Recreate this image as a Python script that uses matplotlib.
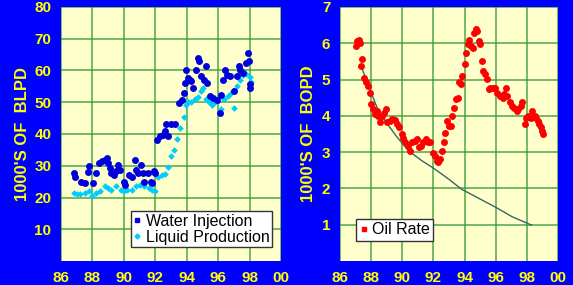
import matplotlib
matplotlib.use("Agg")
import matplotlib.pyplot as plt
from matplotlib.lines import Line2D

plt.rcParams['font.family'] = ['Liberation Sans', 'DejaVu Sans']

# ---- Left panel data ----
wi_years = [86.8, 86.9, 87.3, 87.5, 87.7, 87.8, 88.05, 88.2, 88.4, 88.6, 88.8, 88.9,
            89.0, 89.1, 89.2, 89.4, 89.5, 89.6, 89.75, 90.0, 90.1, 90.3, 90.5, 90.7,
            90.8, 90.9, 91.1, 91.2, 91.3, 91.55, 91.7, 91.8, 91.9, 92.0, 92.1, 92.3,
            92.5, 92.6, 92.7, 92.8, 93.0, 93.25, 93.5, 93.7, 93.8, 93.9, 93.95, 94.1,
            94.2, 94.3, 94.4, 94.6, 94.7, 94.8, 94.9, 95.1, 95.2, 95.3, 95.45, 95.7,
            95.9, 96.1, 96.2, 96.3, 96.45, 96.55, 96.75, 97.0, 97.2, 97.3, 97.4, 97.6,
            97.8, 97.9, 97.95, 98.0, 98.05]
wi_vals = [27.7, 26.6, 25.0, 24.7, 28.0, 29.8, 24.5, 27.7, 30.8, 31.4, 31.9, 32.4,
           30.8, 29.3, 27.7, 27.2, 28.2, 30.3, 28.7, 25.0, 24.0, 27.2, 26.6, 31.9,
           28.7, 27.7, 30.3, 27.7, 25.0, 27.7, 25.0, 24.5, 28.2, 27.7, 38.2, 39.3,
           39.8, 40.8, 43.0, 39.3, 43.0, 43.0, 49.8, 50.8, 53.0, 56.0, 60.3, 57.7,
           57.0, 56.6, 54.5, 60.3, 64.0, 63.0, 58.2, 57.0, 61.4, 56.0, 51.9, 51.4,
           50.8, 46.6, 52.4, 57.0, 60.3, 58.7, 58.2, 53.5, 58.2, 61.4, 60.3, 59.3,
           62.4, 65.6, 63.0, 54.5, 55.6]

lp_years = [86.8, 87.0, 87.2, 87.5, 87.8, 88.0, 88.2, 88.5, 88.8, 89.0, 89.2, 89.5,
            89.8, 90.0, 90.2, 90.5, 90.8, 91.0, 91.3, 91.6, 91.8, 92.0, 92.2, 92.4,
            92.6, 92.8, 93.0, 93.2, 93.4, 93.6, 93.8, 93.95, 94.1, 94.3, 94.5, 94.7,
            94.9, 95.05, 95.2, 95.4, 95.6, 95.8, 96.0, 96.2, 96.4, 96.6, 96.8, 97.0,
            97.2, 97.4, 97.6, 97.8, 98.0, 98.1]
lp_vals = [21.5, 21.0, 21.2, 21.5, 22.0, 20.5, 21.5, 22.0, 23.5, 23.0, 22.5, 23.5,
           22.5, 22.0, 22.5, 22.5, 23.5, 24.0, 23.5, 23.0, 22.5, 22.0, 26.5, 27.0,
           27.5, 29.5, 33.0, 35.0, 38.5, 42.0, 45.5, 49.0, 50.0, 50.0, 51.0, 51.5,
           53.5, 54.5, 51.0, 50.0, 49.0, 50.0, 50.5, 48.0, 51.0, 52.0, 53.0, 48.2,
           55.0, 57.0, 58.5, 59.0, 58.0, 56.5]

# ---- Right panel data ----
oil_years = [87.0, 87.1, 87.2, 87.3, 87.35, 87.4, 87.55, 87.65, 87.8, 87.9, 88.0, 88.15,
             88.25, 88.35, 88.45, 88.55, 88.7, 88.85, 88.95, 89.05, 89.2, 89.35, 89.55,
             89.65, 89.8, 89.95, 90.05, 90.15, 90.35, 90.5, 90.6, 90.8, 90.95, 91.1,
             91.2, 91.35, 91.5, 91.65, 91.8, 91.95, 92.1, 92.2, 92.3, 92.4, 92.55,
             92.65, 92.75, 92.9, 93.0, 93.1, 93.2, 93.3, 93.45, 93.55, 93.65, 93.8,
             93.85, 94.0, 94.1, 94.25, 94.3, 94.4, 94.55, 94.6, 94.75, 94.8, 94.9,
             95.0, 95.1, 95.2, 95.3, 95.45, 95.55, 95.65, 95.8, 95.95, 96.1, 96.3,
             96.45, 96.55, 96.65, 96.75, 96.9, 97.05, 97.2, 97.35, 97.45, 97.6, 97.7,
             97.85, 97.95, 98.1, 98.25, 98.35, 98.5, 98.6, 98.7, 98.8, 98.9, 99.0, 99.05]
oil_vals = [5.93, 6.06, 6.10, 6.00, 5.38, 5.56, 5.05, 4.92, 4.83, 4.64, 4.32, 4.18,
            4.05, 4.14, 4.00, 3.82, 4.00, 4.09, 4.18, 3.82, 3.86, 3.91, 3.89,
            3.77, 3.68, 3.50, 3.40, 3.27, 3.17, 3.04, 3.27, 3.31, 3.36, 3.13,
            3.17, 3.27, 3.36, 3.27, 3.27, 2.99, 2.90, 2.76, 2.72, 2.81, 3.04,
            3.27, 3.54, 3.86, 3.72, 3.72, 4.00, 4.23, 4.46, 4.48, 4.92, 4.87,
            5.10, 5.42, 5.74, 5.97, 6.10, 5.93, 5.88, 6.29, 6.39, 6.34, 6.06,
            5.97, 5.51, 5.24, 5.15, 5.01, 4.73, 4.78, 4.78, 4.78, 4.64, 4.55,
            4.50, 4.60, 4.78, 4.55, 4.37, 4.28, 4.23, 4.14, 4.18, 4.28, 4.37,
            3.77, 3.95, 4.00, 3.95, 4.14, 4.00, 3.95, 3.86, 3.77, 3.68, 3.59, 3.50]

dec_years = [87.35, 87.9, 88.45, 88.9, 89.6, 90.4, 91.2, 92.1, 93.0, 93.8, 94.9, 96.0, 97.05, 98.3]
dec_vals = [5.38, 4.75, 4.15, 3.86, 3.45, 3.04, 2.78, 2.53, 2.25, 1.98, 1.73, 1.48, 1.22, 0.99]

x_ticks = [86, 88, 90, 92, 94, 96, 98, 100]
x_labels = ['86', '88', '90', '92', '94', '96', '98', '00']
y1_ticks = [10, 20, 30, 40, 50, 60, 70, 80]
y2_ticks = [1, 2, 3, 4, 5, 6, 7]

BG = '#0000FF'
FACE = '#FFFFCC'
GRID = '#339933'
YEL = '#FFFF00'
TICKFONT = dict(fontweight='bold', fontsize=11, color=YEL)

fig = plt.figure(figsize=(5.73, 2.85), dpi=100, facecolor=BG)
ax1 = fig.add_axes([61/573, 1-261/285, 220/573, 254/285])
ax2 = fig.add_axes([340/573, 1-261/285, 218/573, 254/285])


def style(ax, yticks, ylim):
    ax.set_facecolor(FACE)
    ax.set_xlim(86, 100)
    ax.set_ylim(*ylim)
    ax.set_xticks(x_ticks, x_labels, **TICKFONT)
    ax.set_yticks(yticks, [str(t) for t in yticks], **TICKFONT)
    ax.grid(True, color=GRID, linewidth=1.2, alpha=0.8)
    ax.set_axisbelow(True)
    for s in ax.spines.values():
        s.set_visible(False)
    ax.tick_params(length=0, pad=7)


style(ax1, y1_ticks, (0, 80))
style(ax2, y2_ticks, (0, 7))

leg_prop = {'weight': 'normal', 'size': 11.5}

# Left
ax1.plot(lp_years, lp_vals, linestyle='none', marker='D', markersize=3.4,
         color='#00CCFF', markeredgewidth=0)
ax1.plot(wi_years, wi_vals, linestyle='none', marker='o', markersize=5.0,
         color='#0000DD', markeredgewidth=0)
ax1.set_ylabel("1000'S OF  BLPD", color=YEL, fontsize=12, fontweight='bold', labelpad=3)
h1 = [Line2D([], [], linestyle='none', marker='s', markersize=2.5, color='#0000DD'),
      Line2D([], [], linestyle='none', marker='D', markersize=2.5, color='#00CCFF')]
leg1 = ax1.legend(h1, ['Water Injection', 'Liquid Production'], loc='lower right',
                  bbox_to_anchor=(0.96, 0.055), prop=leg_prop, frameon=True, fancybox=False,
                  edgecolor='#333333', facecolor='white', framealpha=1,
                  handlelength=0.5, handletextpad=0.3, borderpad=0.15, labelspacing=0.05,
                  borderaxespad=0)
leg1.get_frame().set_linewidth(1.0)

# Right
ax2.plot(dec_years, dec_vals, color='#336666', linewidth=1.0)
ax2.plot(oil_years, oil_vals, linestyle='none', marker='o', markersize=5.0,
         color='#FF0000', markeredgewidth=0)
ax2.set_ylabel("1000'S OF  BOPD", color=YEL, fontsize=12, fontweight='bold', labelpad=4)
h2 = [Line2D([], [], linestyle='none', marker='s', markersize=3, color='#FF0000')]
leg2 = ax2.legend(h2, ['Oil Rate'], loc='lower left', bbox_to_anchor=(0.075, 0.08),
                  prop=leg_prop, frameon=True, fancybox=False, edgecolor='#333333',
                  facecolor='white', framealpha=1, handlelength=0.5, handletextpad=0.3,
                  borderpad=0.2, borderaxespad=0)
leg2.get_frame().set_linewidth(1.0)

fig.savefig('out.png', dpi=100, facecolor=BG)
